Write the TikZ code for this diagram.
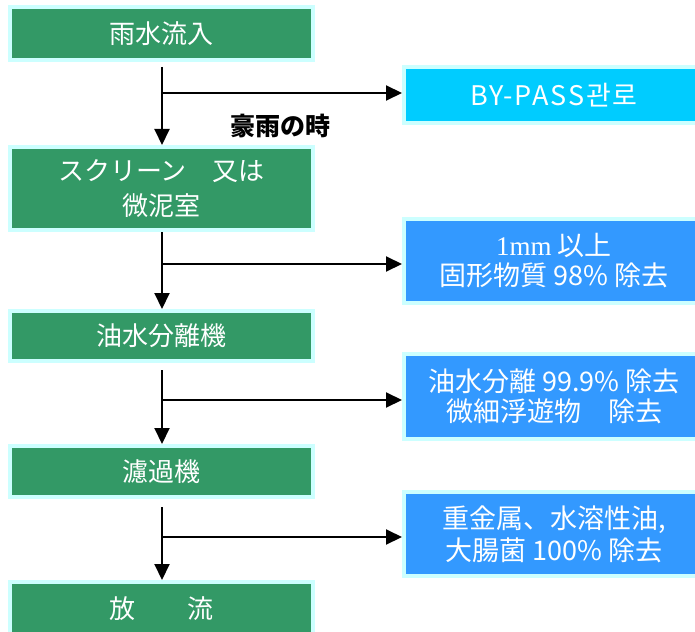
\documentclass[tikz,border=0pt]{standalone}
\usepackage{fontspec}
\setmainfont{Noto Sans CJK JP}
\newfontfamily\serifnum{Liberation Serif}
\usetikzlibrary{arrows.meta}
\definecolor{boxgreen}{HTML}{339966}
\definecolor{edgecyan}{HTML}{CCFFFF}
\definecolor{bypass}{HTML}{00CCFF}
\definecolor{boxblue}{HTML}{3399FF}
\tikzset{
  greenbox/.style={rectangle, fill=boxgreen, draw=edgecyan, line width=4pt,
    minimum width=303pt, inner sep=0pt, outer sep=0pt, text=white, align=center,
    font=\fontsize{26}{35}\selectfont},
  bluebox/.style={rectangle, fill=boxblue, draw=edgecyan, line width=4pt,
    minimum width=300pt, inner sep=0pt, outer sep=0pt, text=white, align=center,
    font=\fontsize{27}{30}\selectfont},
  arr/.style={line width=2pt, -{Triangle[length=16pt,width=15pt]}},
}
\begin{document}
\begin{tikzpicture}[x=1pt,y=-1pt]
\useasboundingbox (0,0) rectangle (695,631);
% main flow boxes
\node[greenbox, minimum height=53pt] (b1) at (161.5,33.5) {雨水流入};
\node[greenbox, minimum height=83pt] (b2) at (161.5,188.5) {スクリーン　又は\\微泥室};
\node[greenbox, minimum height=50pt] (b3) at (161.5,336) {油水分離機};
\node[greenbox, minimum height=51pt] (b4) at (161.5,471.5) {濾過機};
\node[greenbox, minimum height=53pt] (b5) at (161.5,608.5) {放　　流};
% side boxes
\node[bluebox, fill=bypass, minimum height=56pt] (r1) at (554,95) {\addfontfeature{LetterSpace=7}BY-PASS관로};
\node[bluebox, minimum height=84pt] (r2) at (554,261) {{\serifnum 1mm} 以上\\固形物質 98\% 除去};
\node[bluebox, minimum height=85pt] (r3) at (554,396.5) {油水分離 99.9\% 除去\\微細浮遊物　除去};
\node[bluebox, minimum height=84pt, font=\fontsize{27}{32}\selectfont] (r4) at (554,534) {重金属、水溶性油,\\大腸菌 100\% 除去};
% label
\node[font=\fontsize{25}{28}\selectfont\bfseries] (lab) at (280,126) {豪雨の時};
% junction points
\coordinate (j1) at (162,93);
\coordinate (j2) at (162,264);
\coordinate (j3) at (162,400);
\coordinate (j4) at (162,537);
% vertical arrows
\draw[arr, shorten >=2pt] (162,67) -- (b2.north -| j1);
\draw[arr, shorten >=2pt] (162,232) -- (b3.north -| j2);
\draw[arr, shorten >=2pt] (162,370) -- (b4.north -| j3);
\draw[arr, shorten >=2pt] (162,507) -- (b5.north -| j4);
% branch arrows
\draw[arr, shorten >=2pt] (j1) -- (r1.west |- j1);
\draw[arr, shorten >=2pt] (j2) -- (r2.west |- j2);
\draw[arr, shorten >=2pt] (j3) -- (r3.west |- j3);
\draw[arr, shorten >=2pt] (j4) -- (r4.west |- j4);
\end{tikzpicture}
\end{document}
